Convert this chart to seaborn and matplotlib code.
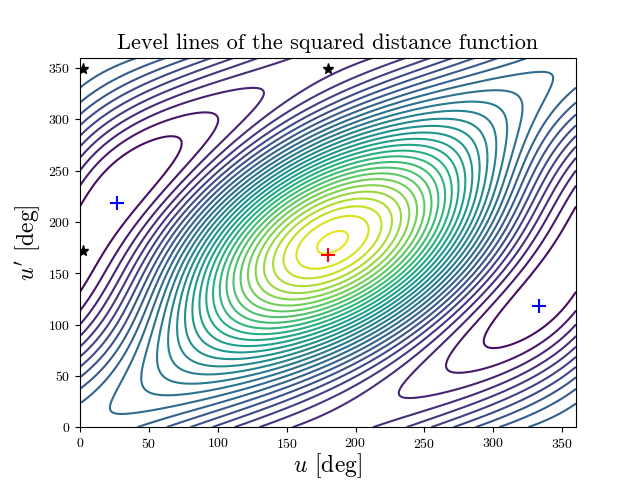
import numpy as np
import matplotlib
matplotlib.use('Agg')
import matplotlib.pyplot as plt
import seaborn as sns

sns.set_style('ticks')
plt.rcParams.update({'font.family': 'cmr10', 'mathtext.fontset': 'cm',
                     'axes.formatter.use_mathtext': True,
                     'text.color': 'black', 'axes.labelcolor': 'black',
                     'xtick.color': 'black', 'ytick.color': 'black',
                     'axes.edgecolor': 'black',
                     'xtick.direction': 'out', 'ytick.direction': 'out'})

# orbit parameters (two confocal ellipses, a1 = 1)
e1 = 0.0216
a2, e2 = 0.718, 0.592
inc, om, w2 = 0.1657, 0.2129, 2.9845  # [rad]

# critical points [deg]
max_pt = (180, 168)
min_pts_u = [27, 333]
min_pts_v = [218, 118]
saddle_u = [2, 180, 2]
saddle_v = [172, 349, 349]

u = np.radians(np.linspace(0, 360, 361))
U, V = np.meshgrid(u, u)
x1 = np.cos(U) - e1
y1 = np.sqrt(1 - e1**2) * np.sin(U)
xq = a2 * (np.cos(V) - e2)
yq = a2 * np.sqrt(1 - e2**2) * np.sin(V)
xp = np.cos(w2) * xq - np.sin(w2) * yq
yp = np.sin(w2) * xq + np.cos(w2) * yq
x2 = np.cos(om) * xp - np.sin(om) * np.cos(inc) * yp
y2 = np.sin(om) * xp + np.cos(om) * np.cos(inc) * yp
z2 = np.sin(inc) * yp
D2 = (x1 - x2)**2 + (y1 - y2)**2 + z2**2

fig, ax = plt.subplots(figsize=(6.4, 4.8))
fig.subplots_adjust(bottom=0.11)
ax.contour(np.degrees(U), np.degrees(V), D2, levels=40, cmap='viridis')
ax.plot(*max_pt, '+', color='red', ms=10, mew=1.5)
ax.plot(min_pts_u, min_pts_v, '+', color='blue', ms=10, mew=1.5, ls='none')
ax.plot(saddle_u, saddle_v, '*', color='black', ms=8, ls='none')
ax.set_xlim(0, 360)
ax.set_ylim(0, 360)
ax.set_xlabel(r'$u$ [deg]', fontsize=17, labelpad=0)
ax.set_ylabel(r"$u'$ [deg]", fontsize=17)
ax.set_title('Level lines of the squared distance function', fontsize=16)
fig.savefig('out.png', dpi=100)
